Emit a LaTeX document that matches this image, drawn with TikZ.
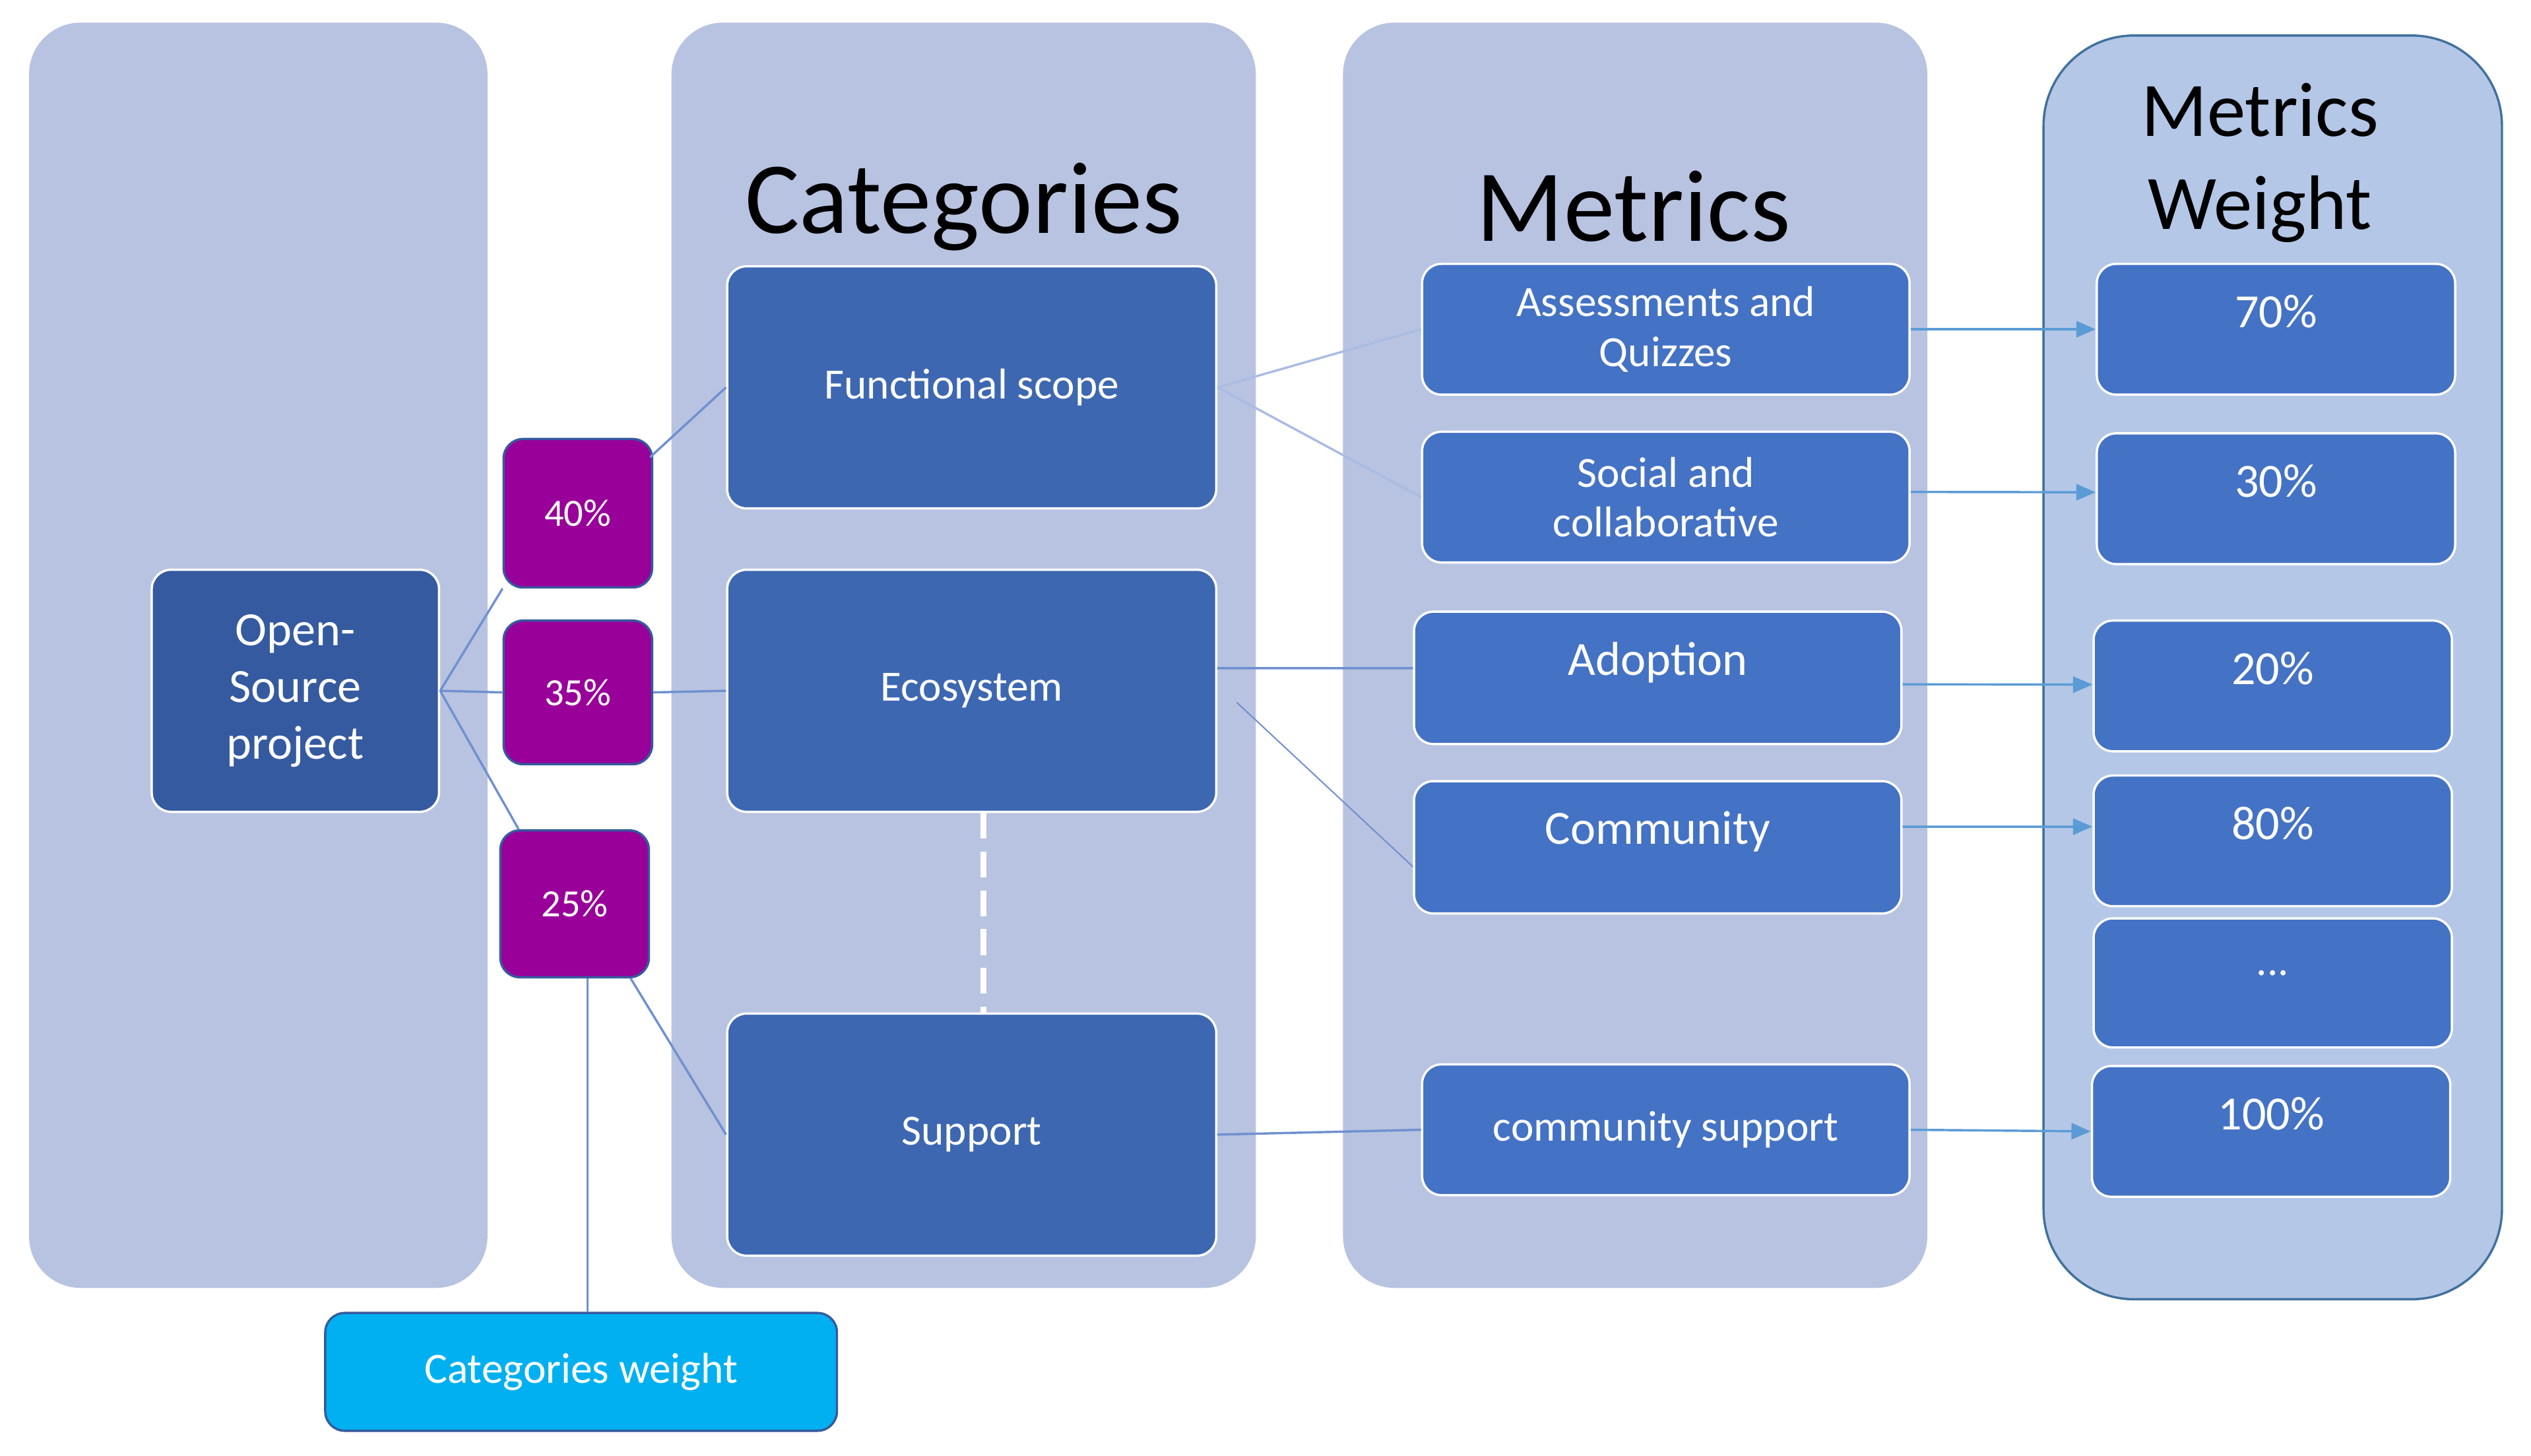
\documentclass[tikz,border=0pt]{standalone}
\usepackage{fontspec}
\setmainfont{Carlito}
\usetikzlibrary{arrows.meta}
\definecolor{colbg}{HTML}{B8C3E1}
\definecolor{wbg}{HTML}{B4C7E7}
\definecolor{wedge}{HTML}{41719C}
\definecolor{dark}{HTML}{355A9F}
\definecolor{cat}{HTML}{3D67B1}
\definecolor{met}{HTML}{4472C4}
\definecolor{pct}{HTML}{990099}
\definecolor{cyanb}{HTML}{00B0F0}
\definecolor{link}{HTML}{7090D0}
\definecolor{arr}{HTML}{5B9BD5}
\tikzset{
  column/.style={fill=colbg, rounded corners=0.8cm},
  box/.style={draw=white, line width=1pt, rounded corners=0.3cm, text=white, align=center, inner sep=0pt},
  link/.style={draw=link, line width=1pt},
  flow/.style={draw=arr, line width=1pt, -{Triangle[length=0.3cm,width=0.25cm]}},
}
\begin{document}
\begin{tikzpicture}[x=0.025cm, y=-0.025cm]
\useasboundingbox (0,0) rectangle (1568,902);
% background columns
\fill[column] (18,14) rectangle (302,798);
\fill[column] (416,14) rectangle (778,798);
\fill[column] (832,14) rectangle (1194,798);
\draw[fill=wbg, draw=wedge, line width=1pt, rounded corners=1.4cm] (1266,22) rectangle (1550,805);
% titles
\node[font=\fontsize{45}{50}\selectfont] (tcat) at (597,128) {Categories};
\node[font=\fontsize{45}{50}\selectfont] (tmet) at (1012,128) {Metrics};
\node[align=center, font=\fontsize{34}{41}\selectfont] (twt) at (1400,101) {Metrics\\ Weight};
% project and category weights
\node[box, fill=dark, minimum width=178*0.025cm, minimum height=150*0.025cm, font=\fontsize{21}{25}\selectfont] (open) at (183,428) {Open-\\ Source\\ project};
\node[box, draw=dark, fill=pct, minimum width=92*0.025cm, minimum height=92*0.025cm, font=\fontsize{17}{18}\selectfont] (p40) at (358,318) {40\%};
\node[box, draw=dark, fill=pct, minimum width=92*0.025cm, minimum height=89*0.025cm, font=\fontsize{17}{18}\selectfont] (p35) at (358,429) {35\%};
\node[box, draw=dark, fill=pct, minimum width=92*0.025cm, minimum height=91*0.025cm, font=\fontsize{17}{18}\selectfont] (p25) at (356,560) {25\%};
\node[box, draw=dark, fill=cyanb, minimum width=317*0.025cm, minimum height=73*0.025cm, font=\fontsize{19}{22}\selectfont] (cw) at (360,850) {Categories weight};
% categories
\foreach \n/\y/\t in {fun/240/Functional scope, eco/428/Ecosystem, sup/703/Support}
  \node[box, fill=cat, minimum width=303*0.025cm, minimum height=150*0.025cm, font=\fontsize{19}{22}\selectfont] (\n) at (602,\y) {\t};
% metrics
\node[box, fill=met, minimum width=302*0.025cm, minimum height=81*0.025cm, font=\fontsize{19}{22}\selectfont] (ass) at (1032,204) {Assessments and\\ Quizzes};
\node[box, fill=met, minimum width=302*0.025cm, minimum height=81*0.025cm, font=\fontsize{19}{22}\selectfont] (soc) at (1032,308) {Social and\\ collaborative};
\node[box, fill=met, minimum width=302*0.025cm, minimum height=82*0.025cm, text depth=0.6cm, font=\fontsize{21}{24}\selectfont] (ado) at (1027,420) {Adoption};
\node[box, fill=met, minimum width=302*0.025cm, minimum height=82*0.025cm, text depth=0.6cm, font=\fontsize{21}{24}\selectfont] (com) at (1027,525) {Community};
\node[box, fill=met, minimum width=302*0.025cm, minimum height=81*0.025cm, font=\fontsize{19}{22}\selectfont] (csup) at (1032,700) {community support};
% metric weights
\foreach \n/\x/\y/\t in {w70/1410/204/70\%, w30/1410/309/30\%, w20/1408/425/20\%, w80/1408/521/80\%, w100/1407/701/100\%}
  \node[box, fill=met, minimum width=222*0.025cm, minimum height=81*0.025cm, text depth=0.55cm, font=\fontsize{21}{24}\selectfont] (\n) at (\x,\y) {\t};
\node[box, fill=met, minimum width=222*0.025cm, minimum height=80*0.025cm, text depth=0.3cm, font=\fontsize{19}{22}\selectfont] (wdots) at (1408,609) {...};
% links
\draw[link] (open.east) -- (p40.south west);
\draw[link] ([xshift=-0.05cm,yshift=-0.3cm]p40.north east) -- (fun.west);
\draw[link] (open.east) -- (p35.west);
\draw[link] (p35.east) -- (eco.west);
\draw[link] (open.east) -- ([xshift=0.3cm]p25.north west);
\draw[link] ([xshift=-0.3cm]p25.south east) -- (sup.west);
\draw[link] ([xshift=0.2cm]p25.south) -- ([xshift=0.2cm]p25.south |- cw.north);
\draw[link, draw=link!60] (fun.east) -- (ass.west);
\draw[link, draw=link!60] (fun.east) -- (soc.west);
\draw[link] ([yshift=0.35cm]eco.east) -- ([yshift=0.15cm]ado.west);
\draw[link, line width=0.6pt] ([xshift=0.3cm,yshift=-0.18cm]eco.east) -- ([yshift=-0.3cm]com.west);
\draw[link] (sup.east) -- (csup.west);
\draw[white, line width=2.5pt, dashed, dash pattern=on 0.4cm off 0.2cm] ([xshift=0.18cm]eco.south) -- ([xshift=0.18cm]sup.north);
% flows
\draw[flow] (ass.east) -- (w70.west);
\draw[flow] ([yshift=0.08cm]soc.east) -- ([yshift=0.1cm]w30.west);
\draw[flow] ([yshift=-0.1cm]ado.east) -- ([yshift=0.02cm]w20.west);
\draw[flow] ([yshift=0.32cm]com.east) -- ([yshift=0.22cm]w80.west);
\draw[flow] (csup.east) -- (w100.west);
\end{tikzpicture}
\end{document}
